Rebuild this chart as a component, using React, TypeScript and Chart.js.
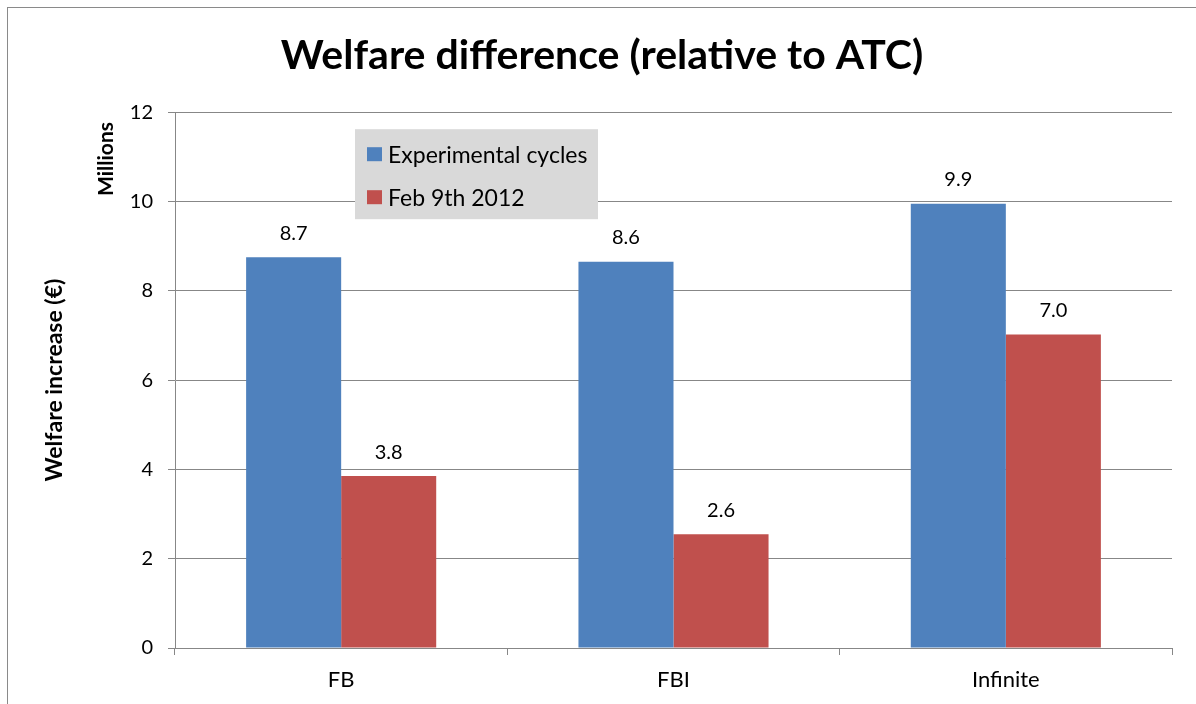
import React, { useEffect, useRef } from "react";
import { Chart, registerables } from "chart.js";

Chart.register(...registerables);

const categories = ["FB", "FBI", "Infinite"];
const seriesNames = ["Experimental cycles", "Feb 9th 2012"];
const experimentalValues = [8.75, 8.65, 9.95];
const febValues = [3.85, 2.55, 7.02];
const experimentalLabels = ["8.7", "8.6", "9.9"];
const febLabels = ["3.8", "2.6", "7.0"];
const yMin = 0;
const yMax = 12;
const yStep = 2;

const FONT = "Lato, 'Liberation Sans', sans-serif";
const BLUE = "#4F81BD";
const RED = "#C0504D";
const GRID = "#878787";

const extrasPlugin = {
  id: "extras",
  afterDatasetsDraw(chart: any) {
    const ctx = chart.ctx;
    const area = chart.chartArea;
    ctx.save();
    // data labels
    const labelSets = [experimentalLabels, febLabels];
    ctx.font = `20px ${FONT}`;
    ctx.fillStyle = "#000";
    ctx.textAlign = "center";
    ctx.textBaseline = "bottom";
    chart.data.datasets.forEach((_ds: any, di: number) => {
      const meta = chart.getDatasetMeta(di);
      meta.data.forEach((el: any, i: number) => {
        ctx.fillText(labelSets[di][i], el.x, el.y - 14);
      });
    });
    // legend box
    const bx = area.left + 180;
    const by = area.top + 17;
    const bw = 243;
    const bh = 90;
    ctx.fillStyle = "#D9D9D9";
    ctx.fillRect(bx, by, bw, bh);
    ctx.textAlign = "left";
    ctx.textBaseline = "middle";
    chart.data.datasets.forEach((ds: any, di: number) => {
      const cy = by + 25 + di * 43;
      ctx.fillStyle = ds.backgroundColor;
      ctx.fillRect(bx + 12, cy - 7, 15, 14);
      ctx.fillStyle = "#000";
      ctx.font = `23px ${FONT}`;
      ctx.fillText(ds.label, bx + 33, cy + 1);
    });
    // "Millions" unit label
    ctx.save();
    ctx.translate(98, 151);
    ctx.rotate(-Math.PI / 2);
    ctx.font = `bold 21px ${FONT}`;
    ctx.fillStyle = "#000";
    ctx.textAlign = "center";
    ctx.textBaseline = "middle";
    ctx.fillText("Millions", 0, 0);
    ctx.restore();
    ctx.restore();
  },
};

export default function App() {
  const ref = useRef<HTMLCanvasElement | null>(null);
  useEffect(() => {
    if (!ref.current) return;
    const chart = new Chart(ref.current, {
      type: "bar",
      data: {
        labels: categories,
        datasets: [
          {
            label: seriesNames[0],
            data: experimentalValues,
            backgroundColor: BLUE,
            categoryPercentage: 0.572,
            barPercentage: 1,
          },
          {
            label: seriesNames[1],
            data: febValues,
            backgroundColor: RED,
            categoryPercentage: 0.572,
            barPercentage: 1,
          },
        ],
      },
      options: {
        responsive: false,
        animation: false,
        layout: { padding: { left: 0, right: 0, bottom: 11, top: 0 } },
        plugins: {
          legend: { display: false },
          tooltip: { enabled: false },
          title: {
            display: true,
            text: "Welfare difference (relative to ATC)",
            color: "#000",
            font: { family: FONT, size: 41, weight: "bold" },
            padding: { top: 23, bottom: 32 },
          },
        },
        scales: {
          x: {
            afterFit(scale: any) {
              scale.height = 45;
            },
            grid: {
              display: true,
              drawOnChartArea: false,
              drawTicks: true,
              tickLength: 7,
              color: GRID,
              offset: true,
            },
            border: { display: true, color: GRID, width: 1 },
            ticks: {
              color: "#000",
              font: { family: FONT, size: 22 },
              padding: 12,
            },
          },
          y: {
            min: yMin,
            max: yMax,
            afterFit(scale: any) {
              scale.width = 167;
            },
            ticks: {
              stepSize: yStep,
              color: "#000",
              font: { family: FONT, size: 20 },
              padding: 15,
            },
            grid: {
              color: GRID,
              tickLength: 7,
              drawTicks: true,
            },
            border: { display: true, color: GRID, width: 1 },
            title: {
              display: true,
              text: "Welfare increase (€)",
              color: "#000",
              font: { family: FONT, size: 23, weight: "bold" },
              padding: { top: 33, bottom: 0 },
            },
          },
          yRightSpace: {
            position: "right",
            min: yMin,
            max: yMax,
            afterFit(scale: any) {
              scale.width = 24;
            },
            ticks: { display: false },
            grid: { display: false, drawTicks: false },
            border: { display: false },
          },
        },
      },
      plugins: [extrasPlugin],
    });
    return () => chart.destroy();
  }, []);
  return (
    <div style={{ position: "relative", width: 1188, height: 696 }}>
      <div
        style={{
          position: "fixed",
          left: 7,
          top: 7,
          right: -20,
          bottom: -20,
          borderLeft: "1px solid #8a8a8a",
          borderTop: "1px solid #8a8a8a",
          pointerEvents: "none",
        }}
      />
      <canvas ref={ref} width={1188} height={696} style={{ display: "block" }} />
    </div>
  );
}
